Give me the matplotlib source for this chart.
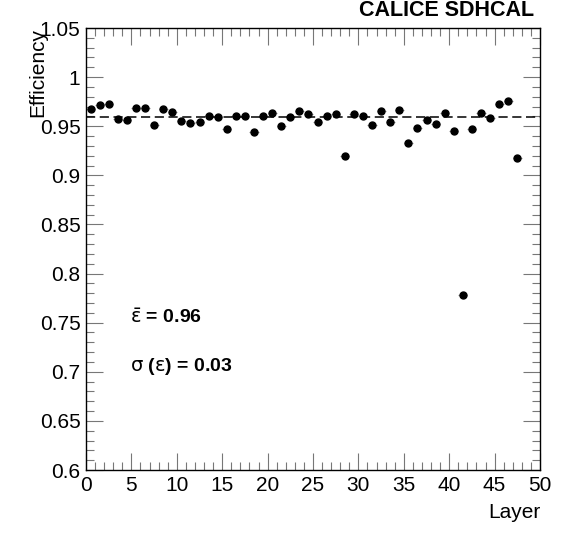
import matplotlib
matplotlib.use("Agg")
import matplotlib.pyplot as plt
from matplotlib.ticker import MultipleLocator
import numpy as np

plt.rcParams['font.family'] = ['Liberation Sans', 'DejaVu Sans']
plt.rcParams['mathtext.fontset'] = 'dejavusans'

# efficiency per layer
layers = np.arange(48) + 0.5
efficiency = [0.968, 0.972, 0.973, 0.957, 0.956, 0.969, 0.969, 0.951, 0.968, 0.964,
              0.955, 0.953, 0.954, 0.960, 0.959, 0.947, 0.960, 0.960, 0.944, 0.960,
              0.963, 0.950, 0.959, 0.965, 0.962, 0.954, 0.960, 0.962, 0.920, 0.962,
              0.960, 0.951, 0.966, 0.954, 0.967, 0.933, 0.948, 0.956, 0.952, 0.963,
              0.945, 0.778, 0.947, 0.963, 0.958, 0.973, 0.976, 0.918]
mean_eff = 0.959
mean_label = "0.96"
sigma_label = "0.03"

fig = plt.figure(figsize=(5.68, 5.47), dpi=100)
ax = fig.add_axes([86/568, 1-470/547, (540-86)/568, (470-28)/547])

ax.errorbar(layers, efficiency, xerr=0.5, fmt='o', color='black', ms=5,
            ecolor='#999999', elinewidth=0.8, capsize=0)
ax.axhline(mean_eff, color='black', ls=(0, (6, 3)), lw=1.1)

ax.set_xlim(0, 50)
ax.set_ylim(0.6, 1.05)
ax.xaxis.set_major_locator(MultipleLocator(5))
ax.xaxis.set_minor_locator(MultipleLocator(1))
ax.yaxis.set_minor_locator(MultipleLocator(0.01))
ax.set_yticks(np.arange(0.6, 1.051, 0.05))
ax.set_yticklabels(['0.6', '0.65', '0.7', '0.75', '0.8', '0.85', '0.9', '0.95', '1', '1.05'])
ax.tick_params(which='both', direction='in', top=True, right=True, labelsize=15,
               color='#777777', width=0.8, pad=4)
ax.tick_params(which='major', length=12)
ax.tick_params(which='minor', length=6)
for sp in ax.spines.values():
    sp.set_linewidth(1)

ax.set_xlabel('Layer', fontsize=15, loc='right')
ax.set_ylabel('Efficiency', fontsize=15, loc='top')
ax.xaxis.set_label_coords(1.0, -0.075)
ax.yaxis.set_label_coords(-0.085, 1.0)

fig.text(534/568, 1-11/547, 'CALICE SDHCAL', ha='right', va='center',
         fontsize=15.5, fontweight='bold')
ax.text(4.85, 0.755, r'$\mathrm{\bar{\varepsilon}}$ = ' + mean_label, fontsize=14,
        fontweight='bold', va='center')
ax.text(4.85, 0.705, r'$\mathrm{\sigma}$ ($\mathrm{\varepsilon}$) = ' + sigma_label,
        fontsize=14, fontweight='bold', va='center')

fig.savefig('out.png', dpi=100)
